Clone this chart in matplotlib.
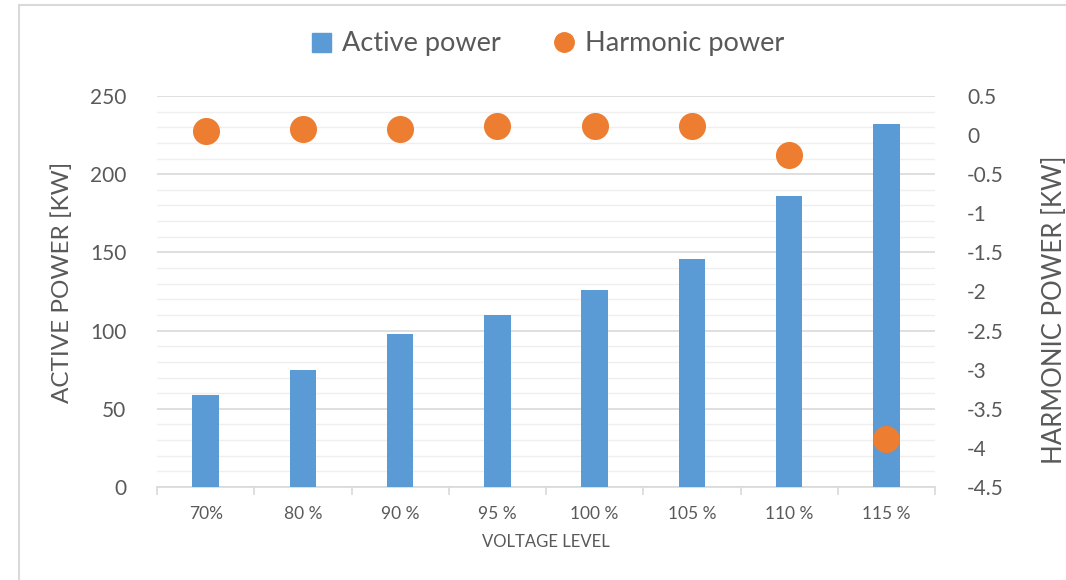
import numpy as np
import matplotlib
matplotlib.use("Agg")
from matplotlib import pyplot as plt
from matplotlib.lines import Line2D
from matplotlib.patches import Patch

plt.rcParams['font.family'] = ['Lato', 'DejaVu Sans']

# datos
niveles = ["70%", "80 %", "90 %", "95 %", "100 %", "105 %", "110 %", "115 %"]
potencia_activa = [59, 75, 98, 110, 126, 146, 186, 232]
potencia_armonica = [0.05, 0.08, 0.08, 0.11, 0.11, 0.11, -0.26, -3.89]

azul = "#5b9bd5"
naranja = "#ed7d31"
gris_txt = "#595959"

fig = plt.figure(figsize=(10.66, 5.8), dpi=100)
ax = fig.add_axes([157 / 1066, 1 - 487 / 580, (935 - 157) / 1066, (487 - 96) / 580])
ax2 = ax.twinx()

x = np.arange(len(niveles))
ax.bar(x, potencia_activa, width=0.27, color=azul, zorder=3)
ax2.scatter(x, potencia_armonica, s=380, color=naranja, zorder=4, linewidths=0)

ax.set_xlim(-0.5, len(niveles) - 0.5)
ax.set_ylim(0, 250)
ax.set_yticks(np.arange(0, 251, 50))
ax.set_yticks(np.arange(0, 251, 10), minor=True)
ax2.set_ylim(-4.5, 0.5)
ax2.set_yticks(np.arange(-4.5, 0.51, 0.5))
ax2.set_yticklabels(["-4.5", "-4", "-3.5", "-3", "-2.5", "-2", "-1.5", "-1", "-0.5", "0", "0.5"])

ax.grid(axis="y", which="major", color="#d9d9d9", lw=1.2, zorder=0)
ax.grid(axis="y", which="minor", color="#efefef", lw=1.0, zorder=0)
ax.set_axisbelow(True)

# ejes al estilo excel
for a in (ax, ax2):
    for s in ["top", "left", "right", "bottom"]:
        a.spines[s].set_visible(False)
ax.spines["bottom"].set_visible(True)
ax.spines["bottom"].set_color("#d9d9d9")
ax.spines["bottom"].set_linewidth(1.2)

ax.set_xticks(np.arange(-0.5, len(niveles), 1))
ax.set_xticklabels([])
ax.set_xticks(x, minor=True)
ax.set_xticklabels(niveles, minor=True)
ax.tick_params(axis="x", which="major", length=6, color="#d9d9d9", width=1.2)
ax.tick_params(axis="x", which="minor", length=0, pad=14, labelsize=12.5, labelcolor=gris_txt)
ax.tick_params(axis="y", which="both", length=0, pad=22, labelsize=15, labelcolor=gris_txt)
ax2.tick_params(axis="y", length=0, pad=23, labelsize=15, labelcolor=gris_txt)

ax.set_xlabel("VOLTAGE LEVEL", fontsize=12, color=gris_txt, labelpad=8)
ax.set_ylabel("ACTIVE POWER [KW]", fontsize=17.5, color=gris_txt)
ax2.set_ylabel("HARMONIC POWER [KW]", fontsize=18.5, color=gris_txt)
ax.yaxis.set_label_coords(-0.122, 0.524)
ax2.yaxis.set_label_coords(1.154, 0.453)
ax.yaxis.label.set_va("center")
ax2.yaxis.label.set_va("center")

handles = [
    Patch(color=azul, label="Active power"),
    Line2D([], [], marker="o", ls="none", color=naranja, markersize=14, label="Harmonic power"),
]
fig.legend(handles=handles, loc="center", bbox_to_anchor=(0.514, 1 - 44 / 580), ncol=2,
           frameon=False, fontsize=19.5, labelcolor=gris_txt, handlelength=0.7,
           handletextpad=0.4, columnspacing=2.0)

# borde del area del grafico
fig.add_artist(Line2D([19 / 1066, 19 / 1066], [0, 1 - 5 / 580], transform=fig.transFigure,
                      color="#d9d9d9", lw=1.5))
fig.add_artist(Line2D([19 / 1066, 1], [1 - 5 / 580, 1 - 5 / 580], transform=fig.transFigure,
                      color="#d9d9d9", lw=1.5))

fig.savefig("out.png", dpi=100)
